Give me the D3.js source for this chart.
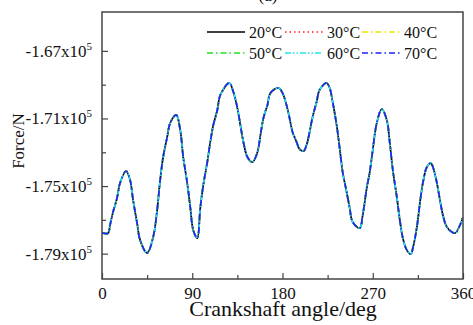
<!DOCTYPE html>
<html>
<head>
<meta charset="utf-8">
<script src="https://cdn.jsdelivr.net/npm/d3@7"></script>
<style>
    body { margin: 0; background: #fff; }
    svg text { font-family: "Liberation Serif", "Times New Roman", serif; fill: #111; }
</style>
</head>
<body>
<div id="chart"></div>
<script>
;(function () {

    // crank angle (deg)
    var angles = [0, 6, 8, 11, 15, 18, 24, 28, 31, 35, 38, 45, 51, 55, 58, 61, 65, 68, 74, 78,
        81, 85, 88, 91, 95, 98, 101, 105, 108, 111, 115, 118, 127, 131, 135, 138, 141, 145, 150,
        155, 158, 161, 165, 168, 176, 180, 184, 187, 190, 194, 197, 201, 204, 207, 210, 214, 217,
        224, 227, 230, 234, 237, 240, 244, 247, 250, 257, 260, 264, 267, 270, 274, 279, 284, 287,
        290, 294, 297, 300, 304, 308, 310, 314, 317, 320, 324, 328, 330, 334, 337, 340, 344, 352,
        357, 360];

    // force (N); the six temperature curves lie on top of each other in the picture
    var force = [-177770, -177790, -177310, -176540, -175710, -174820, -174110, -174640, -175830,
        -177190, -178200, -178970, -178020, -176420, -174640, -173280, -172100, -171270, -170790,
        -171680, -173280, -174820, -176240, -177610, -178080, -176300, -174940, -173580, -172390,
        -171390, -170500, -169610, -168900, -169430, -170380, -171390, -172390, -173280, -173580,
        -172990, -171980, -170970, -170200, -169490, -169190, -169490, -170200, -170970, -171800,
        -172390, -172810, -172930, -172570, -171800, -170910, -170020, -169310, -168900, -169190,
        -170020, -171390, -172750, -174170, -175360, -176300, -177130, -177490, -176720, -175120,
        -174170, -172870, -171270, -170440, -171090, -172450, -174050, -175650, -177010, -178080,
        -178790, -179030, -178670, -177430, -176010, -174820, -173870, -173640, -173870, -174820,
        -175830, -176720, -177430, -177790, -177310, -176840];

    var temps = ['20°C', '30°C', '40°C', '50°C', '60°C', '70°C'];
    var colors = ['#000000', '#ff2020', '#e8e800', '#20e020', '#20e8e8', '#2020ff'];
    var dashes = [null, '1.5,3', '6,3,1.5,3', '6,3,1.5,3', '6,2,1.5,2,1.5,2', '6,3,1.5,3'];

    var xTicks = [0, 90, 180, 270, 360];
    var xMinor = [45, 135, 225, 315];
    var yTicks = [-167000, -171000, -175000, -179000];
    var yMinor = [-169000, -173000, -177000];

    var width = 473
        , height = 325
        , plot = { left: 102, right: 463, top: 12, bottom: 279 };

    var svg = d3.select('#chart').append('svg')
        .attr('width', width)
        .attr('height', height);

    var x = d3.scaleLinear()
        .domain([0, 360])
        .range([plot.left, plot.right]);

    var y = d3.scaleLinear()
        .domain([-180500, -164700])
        .range([plot.bottom, plot.top]);

    var series = temps.map(function (t, i) {
        return { name: t, color: colors[i], dash: dashes[i], values: force };
    });

    var line = d3.line()
        .x(function (d, i) { return x(angles[i]); })
        .y(function (d) { return y(d); })
        .curve(d3.curveCatmullRom.alpha(0.5));

    svg.append('clipPath').attr('id', 'plot-clip')
        .append('rect')
        .attr('x', plot.left).attr('y', plot.top)
        .attr('width', plot.right - plot.left).attr('height', plot.bottom - plot.top);

    svg.append('g')
        .attr('clip-path', 'url(#plot-clip)')
        .selectAll('path')
        .data(series)
        .enter().append('path')
        .attr('fill', 'none')
        .attr('stroke', function (d) { return d.color; })
        .attr('stroke-width', 1.7)
        .attr('stroke-dasharray', function (d) { return d.dash; })
        .attr('d', function (d) { return line(d.values); });

    // axes, ticks inward
    var xAxis = svg.append('g')
        .attr('transform', 'translate(0,' + plot.bottom + ')')
        .call(d3.axisBottom(x).tickValues(xTicks).tickSizeInner(-6).tickSizeOuter(0).tickPadding(8));
    xAxis.selectAll('text').style('font-size', '17px');

    svg.append('g')
        .attr('transform', 'translate(0,' + plot.bottom + ')')
        .call(d3.axisBottom(x).tickValues(xMinor).tickSizeInner(-4).tickSizeOuter(0).tickFormat(''));

    svg.append('g')
        .attr('transform', 'translate(' + plot.left + ',0)')
        .call(d3.axisLeft(y).tickValues(yTicks).tickSizeInner(-6).tickSizeOuter(0).tickFormat(''));

    svg.append('g')
        .attr('transform', 'translate(' + plot.left + ',0)')
        .call(d3.axisLeft(y).tickValues(yMinor).tickSizeInner(-4).tickSizeOuter(0).tickFormat(''));

    svg.selectAll('.domain').remove();
    svg.selectAll('.tick line').attr('stroke', '#444').attr('stroke-width', 1.2);
    svg.selectAll('.tick text').attr('fill', '#111').style('font-family', '"Liberation Serif", serif');

    // y tick labels like -1.67x10^5
    var yLab = svg.append('g').selectAll('text')
        .data(yTicks)
        .enter().append('text')
        .attr('x', 92)
        .attr('y', function (d) { return y(d) + 6; })
        .attr('text-anchor', 'end')
        .style('font-size', '17px');
    yLab.append('tspan').text(function (d) { return (d / 1e5).toFixed(2) + 'x10'; });
    yLab.append('tspan').attr('dy', -7).style('font-size', '11px').text('5');

    // frame
    svg.append('rect')
        .attr('x', plot.left).attr('y', plot.top)
        .attr('width', plot.right - plot.left).attr('height', plot.bottom - plot.top)
        .attr('fill', 'none')
        .attr('stroke', '#444')
        .attr('stroke-width', 1.5);

    // titles
    svg.append('text')
        .attr('x', 283).attr('y', 316)
        .attr('text-anchor', 'middle')
        .style('font-size', '22px')
        .text('Crankshaft angle/deg');

    svg.append('text')
        .attr('transform', 'translate(24,141) rotate(-90)')
        .attr('text-anchor', 'middle')
        .style('font-size', '17px')
        .text('Force/N');

    svg.append('text')
        .attr('x', 268).attr('y', 1)
        .attr('text-anchor', 'middle')
        .style('font-size', '17px')
        .text('(a)');

    // legend, 3 columns x 2 rows
    var legX = [207, 285, 362]
        , legY = [32, 53];

    var leg = svg.append('g').selectAll('g')
        .data(series)
        .enter().append('g')
        .attr('transform', function (d, i) {
            return 'translate(' + legX[i % 3] + ',' + legY[Math.floor(i / 3)] + ')';
        });

    leg.append('line')
        .attr('x1', 0).attr('x2', 38)
        .attr('stroke', function (d) { return d.color; })
        .attr('stroke-width', 1.3)
        .attr('stroke-dasharray', function (d) { return d.dash; });

    leg.append('text')
        .attr('x', 42).attr('y', 6)
        .style('font-size', '16px')
        .text(function (d) { return d.name; });

}());
</script>
</body>
</html>
